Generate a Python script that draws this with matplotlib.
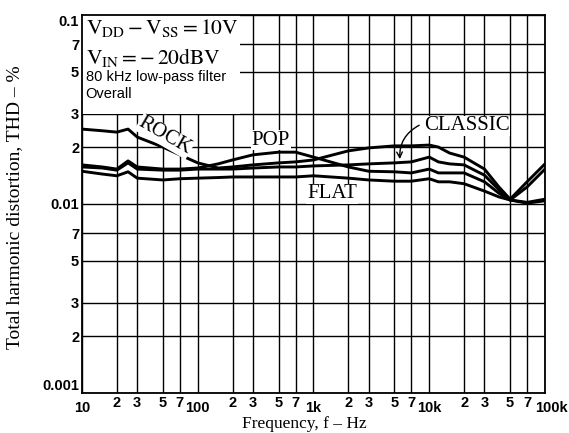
import matplotlib
matplotlib.use("Agg")
import matplotlib.pyplot as plt
from matplotlib.patches import Rectangle
from matplotlib.ticker import FixedLocator, FixedFormatter
from matplotlib.transforms import ScaledTranslation

plt.rcParams['mathtext.fontset'] = 'stix'

# frequency points (Hz)
freq = [10, 15, 20, 25, 30, 50, 70, 100, 150, 200, 300, 500, 700,
        1000, 2000, 3000, 5000, 7000, 10000, 12000, 15000, 20000,
        30000, 40000, 50000, 70000, 100000]

# THD values (fraction of %, as on the axis)
rock = [0.0249, 0.0244, 0.0240, 0.0249, 0.0226, 0.0200, 0.0182, 0.0165,
        0.0155, 0.0157, 0.0161, 0.0165, 0.0167, 0.0171, 0.0191, 0.0198,
        0.0203, 0.0203, 0.0205, 0.0200, 0.0186, 0.0177, 0.0153, 0.0123,
        0.0106, 0.0131, 0.0163]
pop = [0.0161, 0.0157, 0.0153, 0.0169, 0.0157, 0.0153, 0.0153, 0.0155,
       0.0163, 0.0171, 0.0182, 0.0188, 0.0188, 0.0177, 0.0157, 0.0149,
       0.0148, 0.0146, 0.0153, 0.0146, 0.0146, 0.0146, 0.0131, 0.0114,
       0.0105, 0.0101, 0.0104]
classic = [0.0157, 0.0155, 0.0151, 0.0165, 0.0153, 0.0151, 0.0151, 0.0153,
           0.0153, 0.0153, 0.0155, 0.0157, 0.0157, 0.0159, 0.0161, 0.0163,
           0.0165, 0.0167, 0.0177, 0.0167, 0.0163, 0.0161, 0.0142, 0.0119,
           0.0105, 0.0123, 0.0153]
flat = [0.0149, 0.0144, 0.0141, 0.0148, 0.0137, 0.0134, 0.0136, 0.0137,
        0.0138, 0.0139, 0.0139, 0.0139, 0.0139, 0.0141, 0.0137, 0.0134,
        0.0132, 0.0132, 0.0136, 0.0131, 0.0131, 0.0128, 0.0117, 0.0109,
        0.0105, 0.0102, 0.0106]

x_major = [10, 100, 1000, 10000, 100000]
x_major_labels = ["10", "100", "1k", "10k", "100k"]
x_minor = [m * d for d in [10, 100, 1000, 10000] for m in (2, 3, 5, 7)]
x_minor_labels = ["2", "3", "5", "7"] * 4

y_major = [0.001, 0.01, 0.1]
y_major_labels = ["0.001", "0.01", "0.1"]
y_minor = [m * d for d in [0.001, 0.01] for m in (2, 3, 5, 7)]
y_minor_labels = ["2", "3", "5", "7"] * 2

fig = plt.figure(figsize=(5.69, 4.33), dpi=100)
ax = fig.add_axes([0.1441, 0.0924, 0.8137, 0.873])
ax.set_xscale('log')
ax.set_yscale('log')
ax.set_xlim(10, 100000)
ax.set_ylim(0.001, 0.1)

ax.xaxis.set_major_locator(FixedLocator(x_major))
ax.xaxis.set_major_formatter(FixedFormatter(x_major_labels))
ax.xaxis.set_minor_locator(FixedLocator(x_minor))
ax.xaxis.set_minor_formatter(FixedFormatter(x_minor_labels))
ax.yaxis.set_major_locator(FixedLocator(y_major))
ax.yaxis.set_major_formatter(FixedFormatter(y_major_labels))
ax.yaxis.set_minor_locator(FixedLocator(y_minor))
ax.yaxis.set_minor_formatter(FixedFormatter(y_minor_labels))

ax.tick_params(which='both', length=0)
ax.tick_params(axis='x', which='major', pad=5.5)
ax.tick_params(axis='x', which='minor', pad=2)
ax.tick_params(axis='y', which='both', pad=2)
for lab in ax.get_xticklabels(which='both') + ax.get_yticklabels(which='both'):
    lab.set_fontfamily('Liberation Sans')
    lab.set_fontweight('bold')
    lab.set_fontsize(10.5)
ylabs = ax.yaxis.get_majorticklabels()
ylabs[0].set_va('bottom')
ylabs[2].set_va('top')
# "100k" sits a little right of its gridline, as in the original
xlabs = ax.xaxis.get_majorticklabels()
xlabs[-1].set_transform(xlabs[-1].get_transform()
                        + ScaledTranslation(5 / 72, 0, fig.dpi_scale_trans))

ax.grid(which='both', color='black', lw=1.0)
ax.set_axisbelow(True)
for s in ax.spines.values():
    s.set_linewidth(1.3)

# white area behind the condition text
ax.add_patch(Rectangle((0, 0.738), 0.341, 0.262, transform=ax.transAxes,
                       facecolor='white', edgecolor='none', zorder=1.5))

for series in (rock, pop, classic, flat):
    ax.plot(freq, series, color='black', lw=2.1, zorder=3)

ax.text(0.008, 0.995, r"$\mathrm{V_{DD}-V_{SS}=10V}$", transform=ax.transAxes,
        ha='left', va='top', fontsize=15.5, zorder=4)
ax.text(0.008, 0.918, r"$\mathrm{V_{IN}=-\,20dBV}$", transform=ax.transAxes,
        ha='left', va='top', fontsize=15.5, zorder=4)
ax.text(0.008, 0.855, "80 kHz low-pass filter", transform=ax.transAxes,
        ha='left', va='top', fontsize=10.5, family='Liberation Sans', zorder=4)
ax.text(0.008, 0.81, "Overall", transform=ax.transAxes,
        ha='left', va='top', fontsize=10.5, family='Liberation Sans', zorder=4)

lbl = dict(family='Liberation Serif', fontsize=15, ha='center', va='center', zorder=4,
           bbox=dict(facecolor='white', edgecolor='none', pad=0.5))
ax.text(52, 0.0229, "ROCK", rotation=-30, **lbl)
ax.text(429, 0.0218, "POP", **lbl)
ax.text(1445, 0.0113, "FLAT", **lbl)
ax.text(21200, 0.0259, "CLASSIC", **lbl)
ax.annotate("", xy=(5590, 0.0167), xytext=(8600, 0.0265),
            arrowprops=dict(arrowstyle='->', color='black', lw=1.0,
                            connectionstyle='arc3,rad=0.35'), zorder=4)

fig.text(0.026, 0.522, "Total harmonic distortion, THD \u2013 %",
         rotation=90, ha='center', va='center', family='Liberation Serif', fontsize=14)
fig.text(0.534, 0.02, "Frequency, f \u2013 Hz", ha='center', va='center',
         family='Liberation Serif', fontsize=12.5)

fig.savefig("out.png", dpi=100)
